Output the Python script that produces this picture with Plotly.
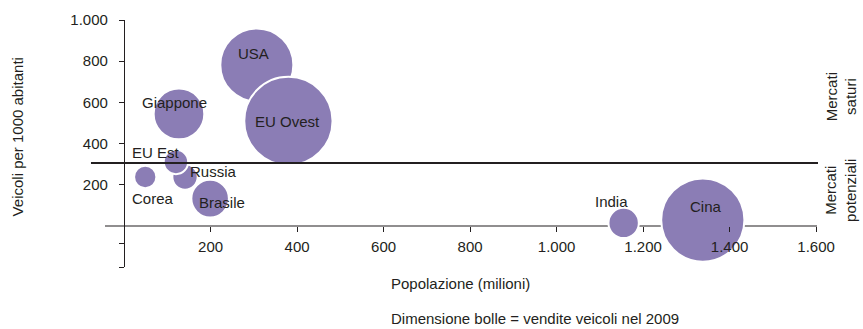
import plotly.graph_objects as go

# Bubble chart: population vs vehicles per 1000 inhabitants, bubble area = 2009 vehicle sales
countries = ["USA", "EU Ovest", "Giappone", "Russia", "EU Est", "Corea", "Brasile", "India", "Cina"]
population = [307, 380, 127, 141, 120, 49, 199, 1155, 1338]          # millions
vehicles_per_1000 = [782, 510, 544, 238, 311, 238, 133, 15, 29]
sales_2009 = [10.4, 15.2, 5.0, 1.25, 1.16, 0.97, 2.75, 1.8, 13.5]    # millions of vehicles

x_ticks = [200, 400, 600, 800, 1000, 1200, 1400, 1600]
y_ticks = [-199, -83, 200, 400, 600, 800, 1000]
y_tick_text = ["", "", "200", "400", "600", "800", "1.000"]
threshold = 306

# label offsets from bubble centre, in pixels (x right, y up)
label_dx = [-3, -1, -4, 28, -20, 8, 12, -12, 3]
label_dy = [11, -1, 11, 5, 9, -22, -4, 21, 14]

INK = "#231f20"
BUBBLE = "#8b7db5"
FONT = "Liberation Sans, Arial, sans-serif"
FS = 15

fig = go.Figure()
fig.add_trace(go.Scatter(
    x=population, y=vehicles_per_1000, mode="markers",
    marker=dict(size=sales_2009, sizemode="area", sizeref=0.0039,
                color=BUBBLE, opacity=1, line=dict(color="white", width=2)),
    hoverinfo="skip", showlegend=False,
))

for name, xv, yv, dx, dy in zip(countries, population, vehicles_per_1000, label_dx, label_dy):
    fig.add_annotation(x=xv, y=yv, text=name, showarrow=False, xshift=dx, yshift=dy,
                       xanchor="center", yanchor="middle",
                       font=dict(size=FS, color=INK, family=FONT))

# zero line of the y scale (drawn under the bubbles)
fig.add_shape(type="line", xref="paper", x0=0, x1=1, yref="y", y0=0, y1=0,
              line=dict(color=INK, width=1.2), layer="below")
# saturation threshold
fig.add_shape(type="line", xref="paper", x0=-0.0197, x1=1.0014, yref="y",
              y0=threshold, y1=threshold, line=dict(color=INK, width=2), layer="above")

fig.add_annotation(xref="paper", yref="paper", x=-0.1235, y=0.525, text="Veicoli per 1000 abitanti",
                   textangle=-90, showarrow=False, xanchor="center", yanchor="middle",
                   font=dict(size=FS, color=INK, family=FONT))
fig.add_annotation(xref="paper", x=1.0337, yref="y", y=630, text="Mercati<br>saturi",
                   textangle=-90, showarrow=False, xanchor="center", yanchor="middle", align="center",
                   font=dict(size=FS, color=INK, family=FONT))
fig.add_annotation(xref="paper", x=1.0337, yref="y", y=175, text="Mercati<br>potenziali",
                   textangle=-90, showarrow=False, xanchor="center", yanchor="middle", align="center",
                   font=dict(size=FS, color=INK, family=FONT))
fig.add_annotation(xref="paper", yref="paper", x=0.399, y=-0.0648, text="Popolazione (milioni)",
                   showarrow=False, xanchor="left", yanchor="middle",
                   font=dict(size=FS, color=INK, family=FONT))
fig.add_annotation(xref="paper", yref="paper", x=0.399, y=-0.2105, text="Dimensione bolle = vendite veicoli nel 2009",
                   showarrow=False, xanchor="left", yanchor="middle",
                   font=dict(size=FS, color=INK, family=FONT))

fig.update_layout(
    width=863, height=329,
    margin=dict(l=105, r=46, t=20, b=62),
    paper_bgcolor="white", plot_bgcolor="white",
    separators=",.",
    font=dict(family=FONT, size=FS, color=INK),
    xaxis=dict(range=[-44, 1602], anchor="free", position=0.166,
               tickvals=x_ticks, tickformat=",d", ticks="outside", ticklen=5,
               tickcolor=INK, tickwidth=1, showline=False, showgrid=False,
               zeroline=False, layer="above traces", ticklabelstandoff=2,
               tickfont=dict(size=FS)),
    yaxis=dict(range=[-199, 1000], anchor="free", position=0.02669,
               tickvals=y_ticks, ticktext=y_tick_text, ticks="outside", ticklen=5,
               tickcolor=INK, tickwidth=1, showline=True, linecolor=INK, linewidth=1.2,
               showgrid=False, zeroline=False, ticklabelstandoff=8,
               tickfont=dict(size=FS)),
)

fig.write_html("out.html")
